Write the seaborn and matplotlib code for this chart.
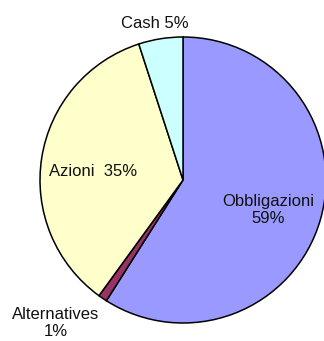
import matplotlib
matplotlib.use("Agg")
import matplotlib.pyplot as plt
import seaborn as sns

# Asset allocation
categories = ["Obbligazioni", "Alternatives", "Azioni", "Cash"]
shares = [59, 1, 35, 5]
label_texts = ["Obbligazioni\n59%", "Alternatives\n1%", "Azioni  35%", "Cash 5%"]
palette_hex = ["#9999FF", "#993366", "#FFFFCC", "#CCFFFF"]

sns.set_style("white")
plt.rcParams["font.family"] = ["Liberation Sans", "DejaVu Sans"]
colors = sns.color_palette(palette_hex)

W, H = 324, 341
fig = plt.figure(figsize=(W / 100, H / 100), dpi=100)
ax = fig.add_axes([0, 0, 1, 1])

ax.pie(shares, colors=colors, startangle=90, counterclock=False,
       center=(183, 161), radius=143,
       wedgeprops=dict(edgecolor="black", linewidth=1.1))

# label placement (pixel-based axes frame)
label_pos = [(268, 131), (56, 18), (93, 169), (155, 317)]
for txt, (x, y) in zip(label_texts, label_pos):
    ax.text(x, y, txt, ha="center", va="center", fontsize=12,
            color="#111111", linespacing=1.2)

ax.set_xlim(0, W)
ax.set_ylim(0, H)
ax.set_aspect("equal")
ax.axis("off")

fig.savefig("out.png", dpi=100, facecolor="white")
